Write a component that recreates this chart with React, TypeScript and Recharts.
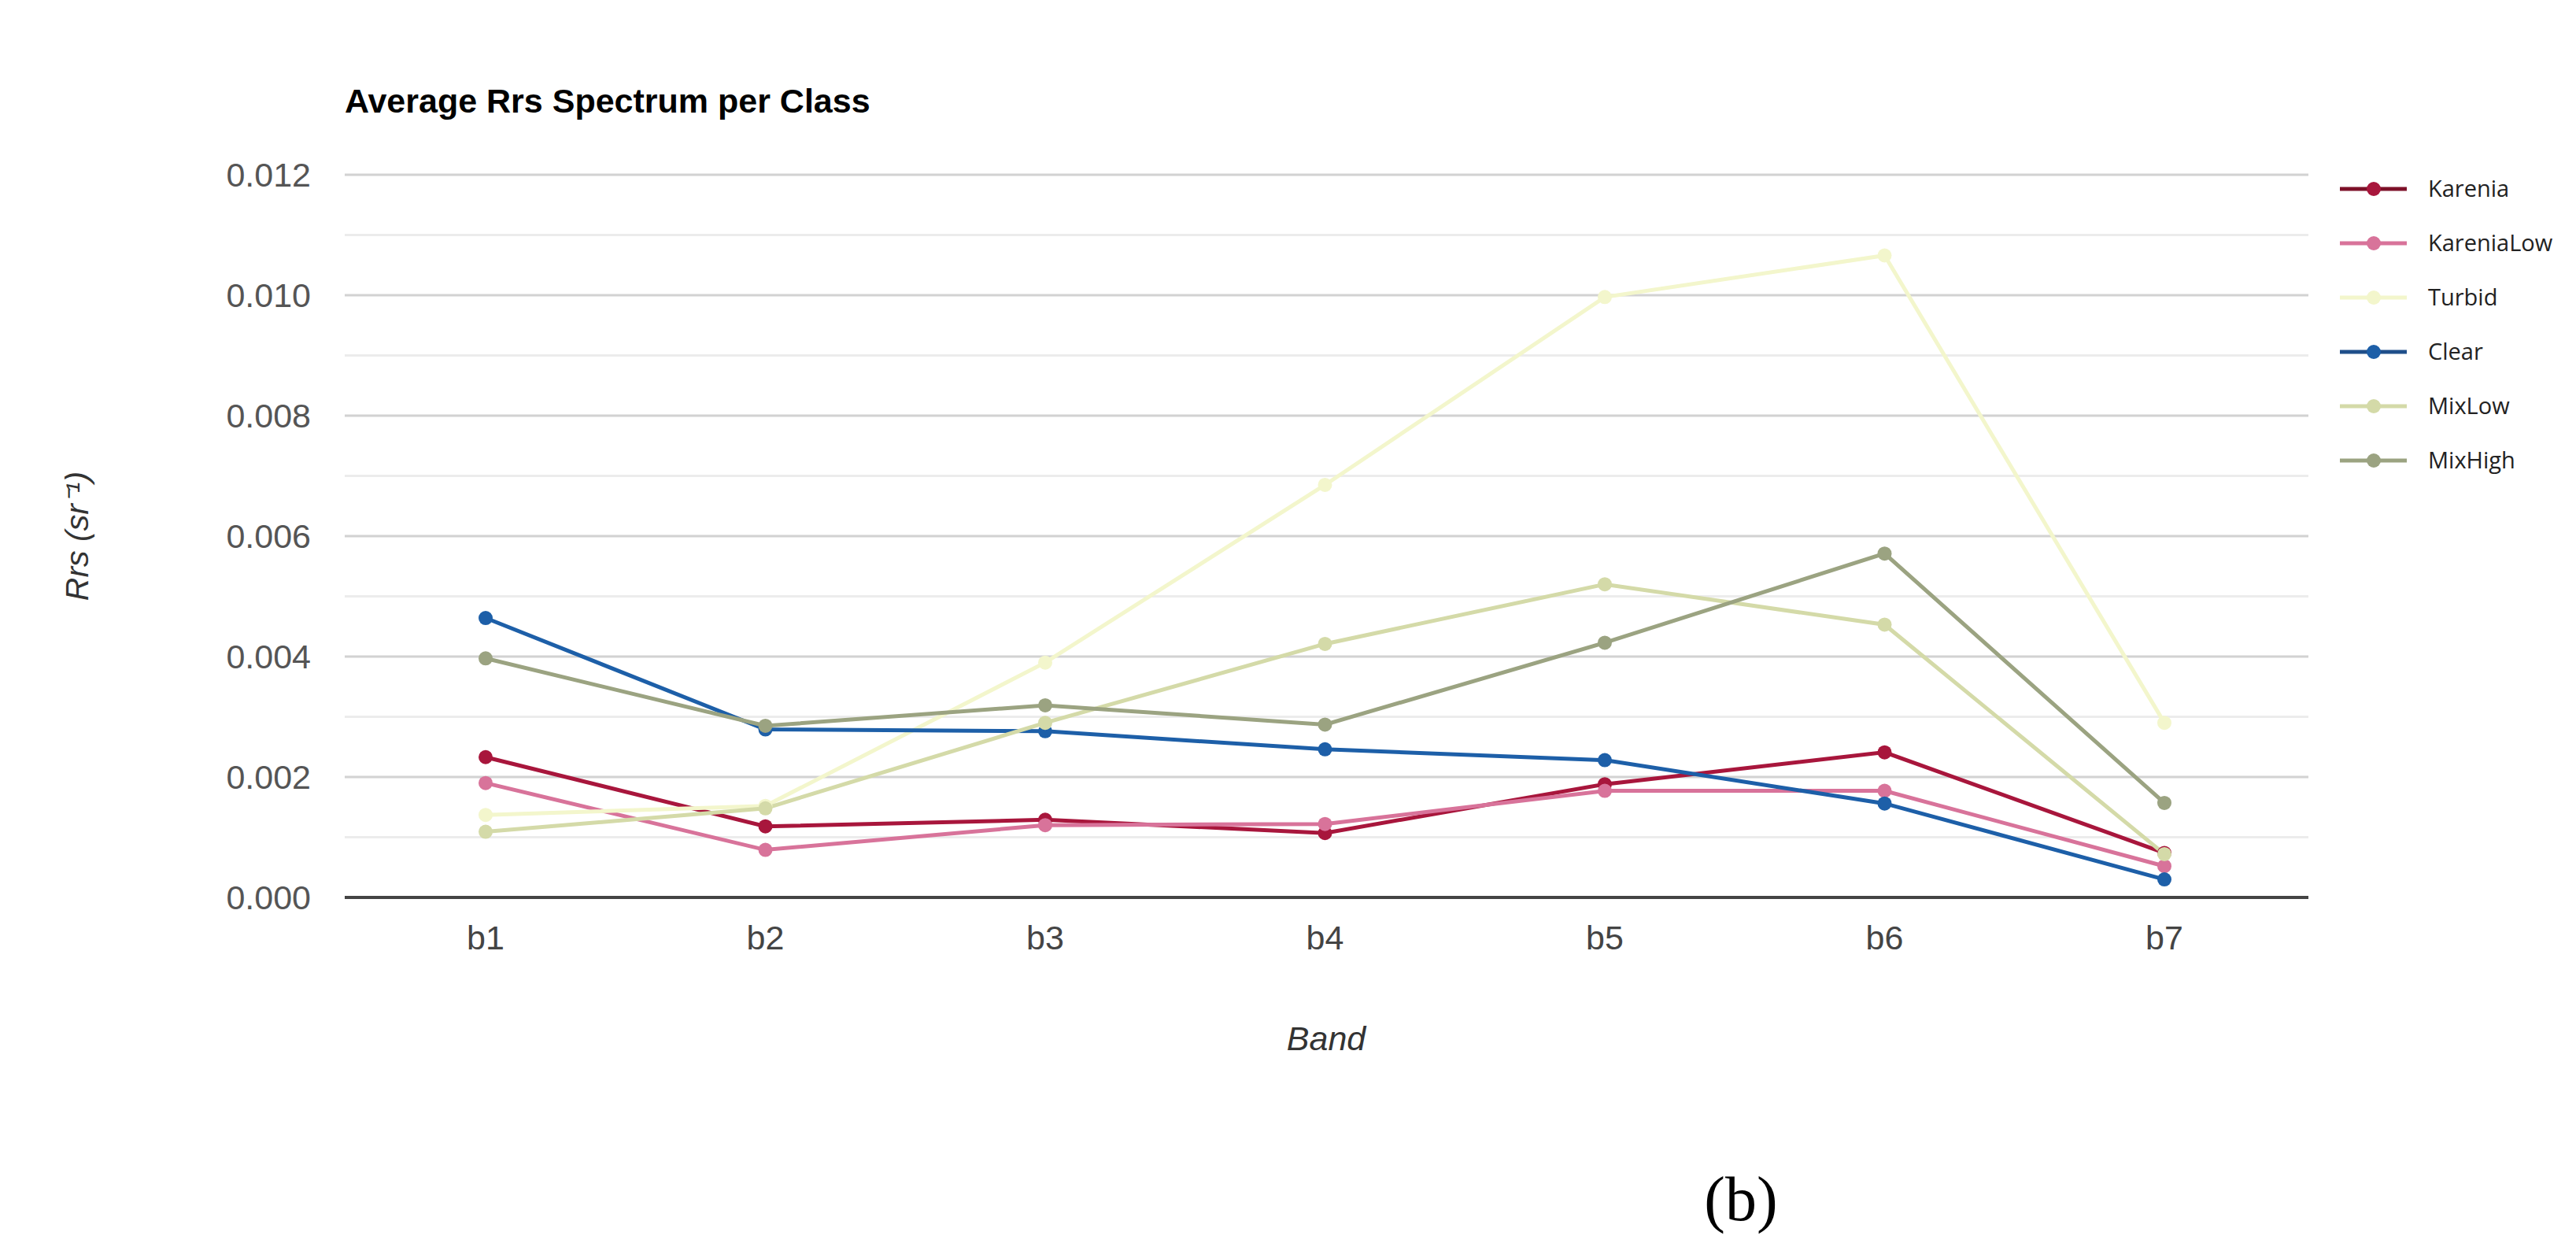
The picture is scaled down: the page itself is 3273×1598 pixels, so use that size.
import React from 'react';
import { LineChart, Line, XAxis, YAxis, CartesianGrid, ReferenceLine } from 'recharts';

const bands = ['b1', 'b2', 'b3', 'b4', 'b5', 'b6', 'b7'];
const karenia = [0.00233, 0.00118, 0.00129, 0.00107, 0.00188, 0.00241, 0.00074];
const kareniaLow = [0.0019, 0.00079, 0.0012, 0.00122, 0.00177, 0.00177, 0.00052];
const turbid = [0.00137, 0.00152, 0.0039, 0.00685, 0.00997, 0.01066, 0.0029];
const clear = [0.00464, 0.00279, 0.00276, 0.00246, 0.00228, 0.00156, 0.0003];
const mixLow = [0.00109, 0.00148, 0.0029, 0.00421, 0.0052, 0.00453, 0.00072];
const mixHigh = [0.00397, 0.00285, 0.00319, 0.00287, 0.00423, 0.00571, 0.00157];

const majorTicks = [0, 0.002, 0.004, 0.006, 0.008, 0.01, 0.012];
const minorTicks = [0.001, 0.003, 0.005, 0.007, 0.009, 0.011];

const seriesNames = ['Karenia', 'KareniaLow', 'Turbid', 'Clear', 'MixLow', 'MixHigh'];
const seriesValues = [karenia, kareniaLow, turbid, clear, mixLow, mixHigh];
const seriesColors = ['#a8163c', '#d8739a', '#f3f6cc', '#1d5fa8', '#d4daa8', '#9ba381'];
const legendLineColors = ['#7d1028', '#d8739a', '#f3f6cc', '#1f4f8a', '#d4daa8', '#9ba381'];

const data = bands.map((b, i) => {
  const row: Record<string, any> = { band: b };
  seriesNames.forEach((n, k) => {
    row[n] = seriesValues[k][i];
  });
  return row;
});

const W = 3273;
const H = 1598;

export default function App() {
  return (
    <div style={{ position: 'absolute', left: 0, top: 0, width: W, height: H, background: '#fff', fontFamily: '"Liberation Sans", Arial, sans-serif' }}>
      <LineChart width={W} height={H} data={data} margin={{ top: 222, right: 340, bottom: 398, left: 288 }}>
        <CartesianGrid vertical={false} stroke="#d2d2d2" strokeWidth={3} />
        {minorTicks.map((v) => (
          <ReferenceLine key={v} y={v} stroke="#ececec" strokeWidth={3} ifOverflow="visible" />
        ))}
        <XAxis
          dataKey="band"
          height={60}
          padding={{ left: 179, right: 183 }}
          tickLine={false}
          tickSize={0}
          tickMargin={35}
          axisLine={{ stroke: '#444', strokeWidth: 4 }}
          tick={{ fontSize: 43, fill: '#444' }}
        />
        <YAxis
          width={150}
          domain={[0, 0.012]}
          ticks={majorTicks}
          tickFormatter={(v: number) => v.toFixed(3)}
          tickLine={false}
          tickSize={0}
          tickMargin={43}
          axisLine={false}
          tick={{ fontSize: 43, fill: '#555' }}
        />
        {seriesNames.map((n, k) => (
          <Line
            key={n}
            type="linear"
            dataKey={n}
            stroke={seriesColors[k]}
            strokeWidth={5}
            dot={{ r: 9, fill: seriesColors[k], stroke: seriesColors[k], strokeWidth: 0 }}
            activeDot={false}
            isAnimationActive={false}
          />
        ))}
      </LineChart>
      <svg width={W} height={H} style={{ position: 'absolute', left: 0, top: 0, pointerEvents: 'none' }}>
        <text x={438} y={143} fontSize={43} fontWeight="bold" fill="#000" fontFamily='"Liberation Sans", Arial, sans-serif'>
          Average Rrs Spectrum per Class
        </text>
        <text
          x={0}
          y={0}
          transform="translate(112,681) rotate(-90)"
          textAnchor="middle"
          fontSize={41}
          fontStyle="italic"
          fill="#333"
          fontFamily='"Liberation Sans", Arial, sans-serif'
        >
          Rrs (sr⁻¹)
        </text>
        <text x={1685} y={1334} textAnchor="middle" fontSize={43} fontStyle="italic" fill="#333" fontFamily='"Liberation Sans", Arial, sans-serif'>
          Band
        </text>
        <text x={2212} y={1550} textAnchor="middle" fontSize={80} fill="#000" fontFamily='"Liberation Serif", "Times New Roman", serif'>
          (b)
        </text>
        {seriesNames.map((n, k) => {
          const cy = 240 + k * 69;
          return (
            <g key={n}>
              <line x1={2973} x2={3058} y1={cy} y2={cy} stroke={legendLineColors[k]} strokeWidth={5} />
              <circle cx={3016} cy={cy} r={9} fill={seriesColors[k]} />
              <text x={3085} y={cy + 10} fontSize={29} fill="#222" fontFamily='"Open Sans", "Noto Sans", sans-serif'>
                {n}
              </text>
            </g>
          );
        })}
      </svg>
    </div>
  );
}
